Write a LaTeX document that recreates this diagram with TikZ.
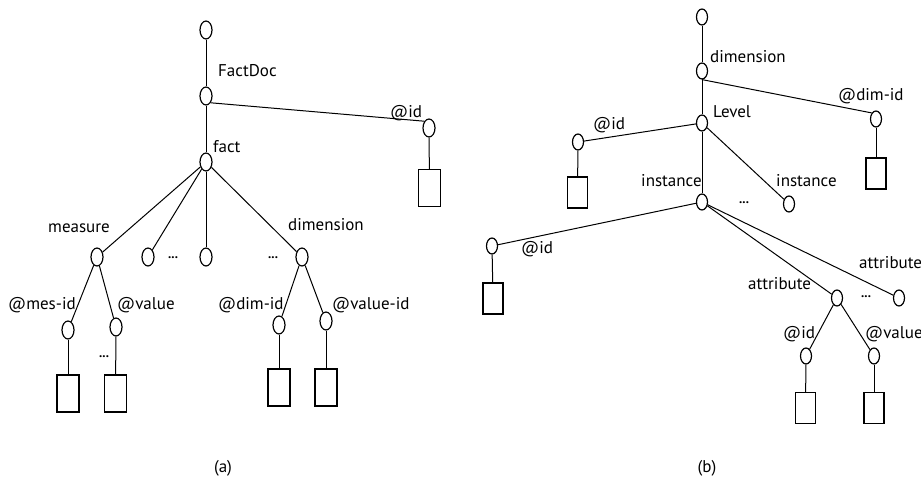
\documentclass[tikz,border=0pt]{standalone}
\usepackage{fontspec}
\setmainfont{PT Sans}
\usetikzlibrary{shapes.geometric}
\tikzset{
  ov/.style={draw, ellipse, line width=1.2pt, minimum width=12pt, minimum height=18pt, inner sep=0pt},
  ovb/.style={ov, minimum width=11pt, minimum height=16pt},
  leaf/.style={draw, rectangle, line width=1.3pt, minimum width=22pt, minimum height=37pt, inner sep=0pt},
  leafb/.style={leaf, minimum width=20pt, minimum height=31pt},
  edge/.style={line width=1pt},
  lbl/.style={anchor=base west, inner sep=0pt, font=\fontsize{17}{18}\selectfont},
  captxt/.style={anchor=base, inner sep=0pt, font=\fontsize{17}{18}\selectfont},
  dots/.style={inner sep=0pt, font=\fontsize{13}{13}\selectfont\bfseries}
}
\begin{document}
\begin{tikzpicture}[x=1pt,y=-1pt]
\useasboundingbox (0,0) rectangle (921,479);
% ---------- panel (a) ----------
\node[ov] (a0) at (206,30) {};
\node[ov] (a1) at (206,96) {};
\node[ov] (aid) at (429,128) {};
\node[leaf] (aidr) at (429.5,188) {};
\node[ov] (a2) at (206,162) {};
\node[ov] (am) at (97,257) {};
\node[ov] (ax1) at (148,257) {};
\node[ov] (ax2) at (206,257) {};
\node[ov] (ad) at (302,257) {};
\node[dots] (adots1) at (173,258) {...};
\node[dots] (adots2) at (273,258) {...};
\node[ov] (amid) at (68,330) {};
\node[ov] (aval) at (116,327) {};
\node[dots] (adots3) at (104,357) {...};
\node[leaf] (amidr) at (68,393.5) {};
\node[leaf] (avalr) at (115.5,393.5) {};
\node[ov] (adid) at (279,325) {};
\node[ov] (avid) at (326,321) {};
\node[leaf] (adidr) at (279,387.5) {};
\node[leaf] (avidr) at (326,387.5) {};
\draw[edge] (a0) -- (a1);
\draw[edge] (a1) -- (a2);
\draw[edge] (a1.south east) -- (aid.north west);
\draw[edge] (aid) -- (aidr);
\draw[edge] (a2) -- (am);
\draw[edge] (a2) -- (ax1);
\draw[edge] (a2) -- (ax2);
\draw[edge] (a2) -- (ad);
\draw[edge] (am) -- (amid);
\draw[edge] (am) -- (aval);
\draw[edge] (amid) -- (amidr);
\draw[edge] (aval) -- (avalr);
\draw[edge] (ad) -- (adid);
\draw[edge] (ad) -- (avid);
\draw[edge] (adid) -- (adidr);
\draw[edge] (avid) -- (avidr);
\node[lbl] (lFactDoc) at (218,76) {FactDoc};
\node[lbl] (lfact) at (213,152) {fact};
\node[lbl] (laid) at (390,117) {@id};
\node[lbl] (lmeasure) at (48,232) {measure};
\node[lbl] (ldim) at (288,230) {dimension};
\node[lbl] (lmesid) at (8,309) {@mes-id};
\node[lbl] (lval) at (117,309) {@value};
\node[lbl] (ldimid) at (218,309) {@dim-id};
\node[lbl] (lvalid) at (332,309) {@value-id};
\node[captxt] (capa) at (223,472) {(a)};
% ---------- panel (b) ----------
\node[ovb] (b0) at (702,17) {};
\node[ovb] (b1) at (702,71) {};
\node[ovb] (bdid) at (876,119) {};
\node[leafb] (bdidr) at (876,173.5) {};
\node[ovb] (b2) at (702,123) {};
\node[ovb] (bid) at (578,142) {};
\node[leafb] (bidr) at (577.5,192.5) {};
\node[ovb] (b3) at (702,202) {};
\node[ovb] (binst) at (789,204) {};
\node[dots] (bdots1) at (744,203) {...};
\node[ovb] (bid2) at (492,246) {};
\node[leafb] (bid2r) at (493,298.5) {};
\node[ovb] (batt) at (837,298) {};
\node[ovb] (batt2) at (899,298) {};
\node[dots] (bdots2) at (866,297) {...};
\node[ovb] (baid) at (806,356) {};
\node[ovb] (baval) at (874,356) {};
\node[leafb] (baidr) at (805.5,408) {};
\node[leafb] (bavalr) at (874,408) {};
\draw[edge] (b0) -- (b1);
\draw[edge] (b1) -- (b2);
\draw[edge] (b1.south) -- (bdid.north west);
\draw[edge] (bdid) -- (bdidr);
\draw[edge] (b2) -- (bid);
\draw[edge] (bid) -- (bidr);
\draw[edge] (b2) -- (b3);
\draw[edge] (b2) -- (binst);
\draw[edge] (b3) -- (bid2);
\draw[edge] (bid2) -- (bid2r);
\draw[edge] (b3) -- (batt);
\draw[edge] (b3) -- (batt2);
\draw[edge] (batt) -- (baid);
\draw[edge] (batt) -- (baval);
\draw[edge] (baid) -- (baidr);
\draw[edge] (baval) -- (bavalr);
\node[lbl] (lbdim) at (710,62) {dimension};
\node[lbl] (lbdimid) at (838,100) {@dim-id};
\node[lbl] (lblevel) at (713,117) {Level};
\node[lbl] (lbid) at (593,129) {@id};
\node[lbl] (lbinst1) at (641,186) {instance};
\node[lbl] (lbinst2) at (776,186) {instance};
\node[lbl] (lbid2) at (521,253) {@id};
\node[lbl] (lbatt2) at (859,268) {attribute};
\node[lbl] (lbatt1) at (748,289) {attribute};
\node[lbl] (lbaid) at (783,338) {@id};
\node[lbl] (lbaval) at (865,338) {@value};
\node[captxt] (capb) at (707,472) {(b)};
\end{tikzpicture}
\end{document}
